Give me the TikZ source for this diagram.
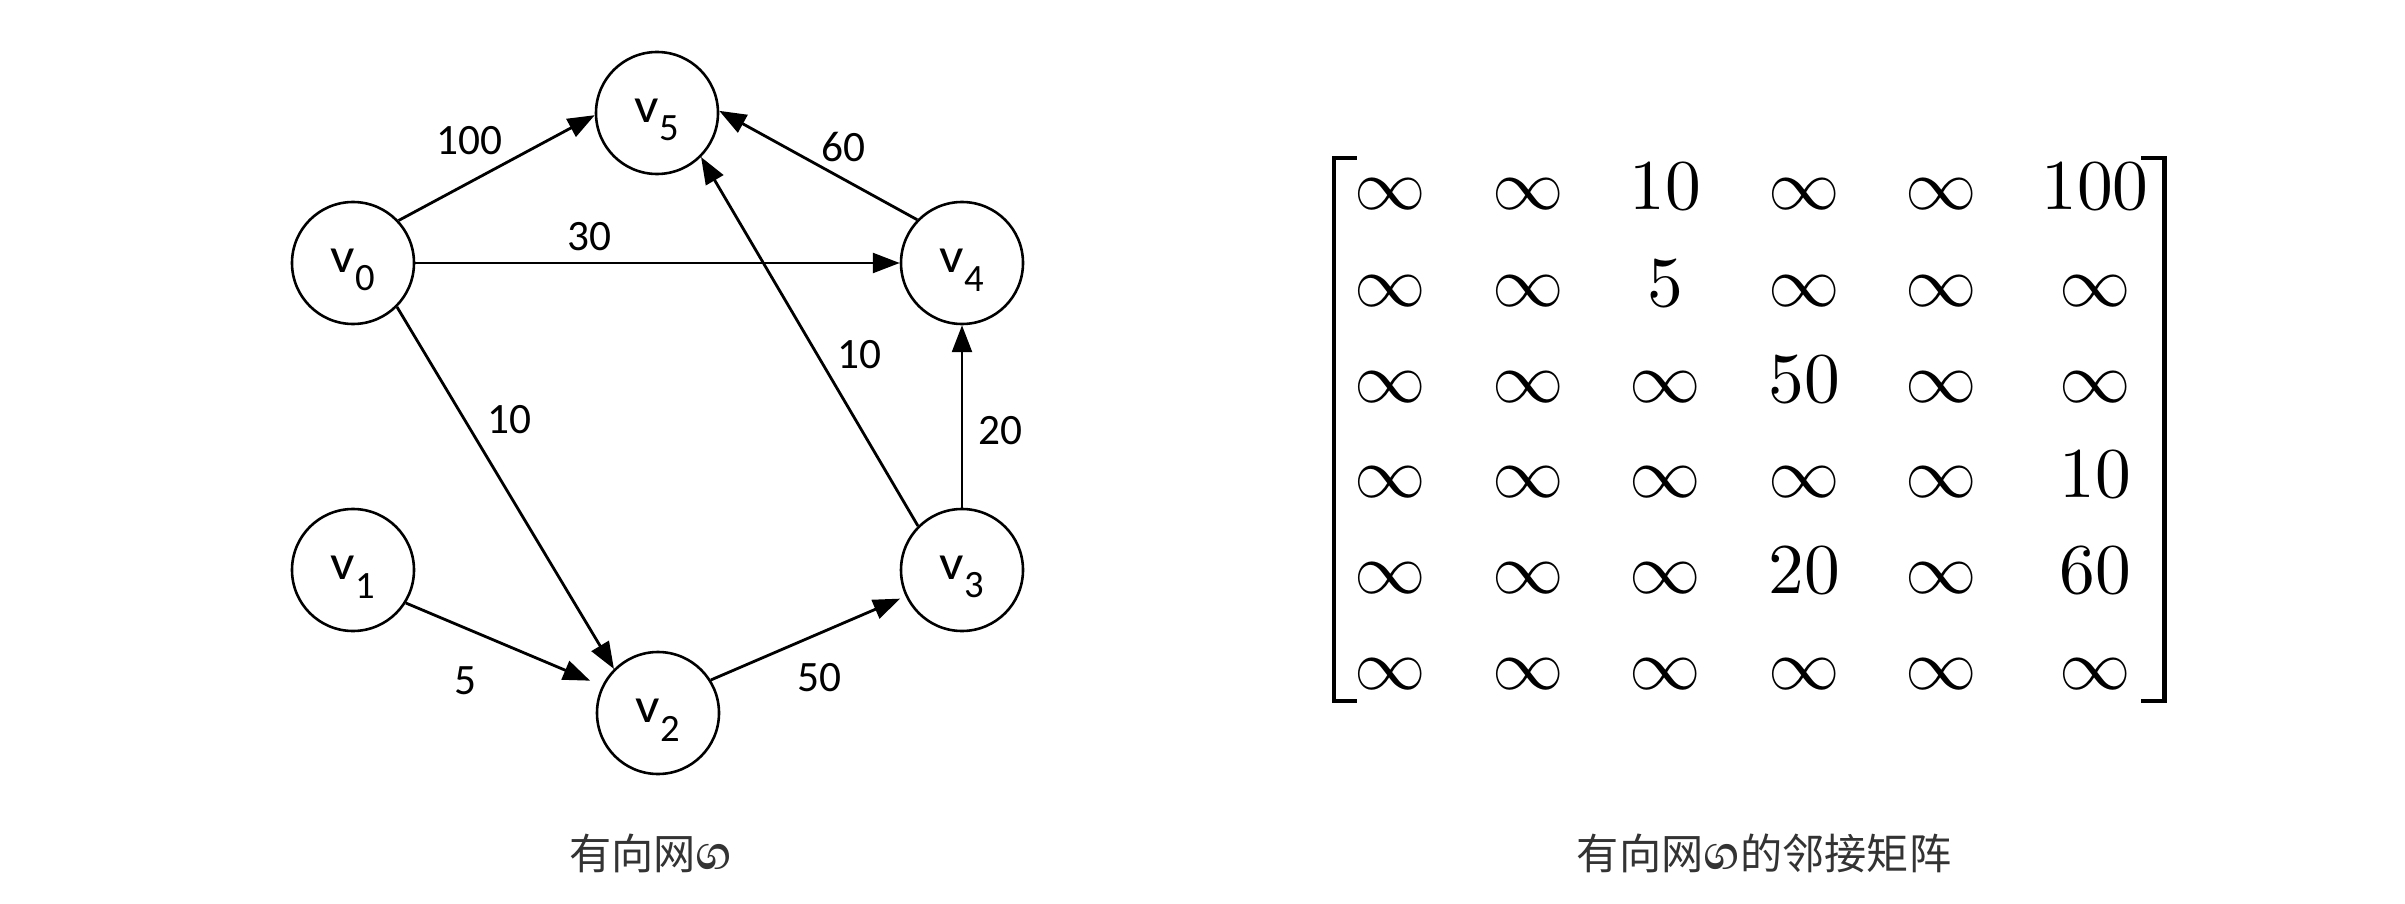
\documentclass[tikz,border=0pt]{standalone}
\usepackage{fontspec}
\usepackage{graphicx}
\usetikzlibrary{arrows.meta}
\newfontfamily\carl{Carlito}
\newfontfamily\cjk{Noto Sans CJK SC}
\newfontfamily\sinhalafont[Script=Sinhala]{Abhaya Libre}
\newcommand{\vv}[1]{\rule{0pt}{32pt}{\fontsize{42}{48}\selectfont\scalebox{1.1}[1]{v}}\raisebox{-16pt}{\fontsize{33}{38}\selectfont #1}}
\newcommand{\gglyph}{{\sinhalafont\bfseries\fontsize{52}{56}\selectfont ග}}
\newcommand{\minf}{\scalebox{6.1}{$\infty$}}
\newcommand{\mnum}[1]{\scalebox{6.1}{$#1$}}
\begin{document}
\begin{tikzpicture}[x=0.03cm,y=-0.03cm,
  vert/.style={circle,draw,line width=2.2pt,minimum size=3.66cm,inner sep=0pt,font=\carl},
  edge/.style={line width=2.4pt,-{Triangle[length=23pt,width=17pt]}},
  wt/.style={font=\carl\fontsize{37}{44}\selectfont,inner sep=0pt},
  captext/.style={font=\cjk\fontsize{36}{42}\selectfont,text=black!80,inner sep=0pt},
  ent/.style={anchor=base,inner sep=0pt},
  brk/.style={line width=3.7pt,line join=miter,line cap=rect}]
\useasboundingbox (0,0) rectangle (2405,904);
% vertices
\node[vert] (v5) at (657,113) {\vv{5}};
\node[vert] (v0) at (353,263) {\vv{0}};
\node[vert] (v4) at (962,263) {\vv{4}};
\node[vert] (v1) at (353,570) {\vv{1}};
\node[vert] (v3) at (962,570) {\vv{3}};
\node[vert] (v2) at (658,713) {\vv{2}};
% edges
\draw[edge] (v0.43) -- (v5.182);
\draw[edge] (v0.east) -- (v4.west);
\draw[edge] (v4.136) -- (v5.2);
\draw[edge] (v3.135) -- (v5.-45);
\draw[edge] (v3.north) -- (v4.south);
\draw[edge] (v0.-45) -- (v2.135);
\draw[edge,shorten >=11pt] (v1.-32) -- (v2.154);
\draw[edge,shorten >=5pt] (v2.32) -- (v3.205);
% weights
\node[wt] (w05) at (469,141) {100};
\node[wt] (w04) at (589,237) {30};
\node[wt] (w45) at (843,147) {60};
\node[wt] (w35) at (859,355) {10};
\node[wt] (w02) at (509,420) {10};
\node[wt] (w34) at (1000,431) {20};
\node[wt] (w12) at (465,681) {5};
\node[wt] (w23) at (819,678) {50};
% captions
\node[captext] (c1) at (651,853) {有向网\gglyph};
\node[captext] (c2) at (1764,853) {有向网\gglyph 的邻接矩阵};
% matrix brackets
\draw[brk] (1355,158) -- (1334,158) -- (1334,701) -- (1355,701);
\draw[brk] (2143,158) -- (2164.5,158) -- (2164.5,701) -- (2143,701);
% matrix entries
\foreach \r/\y in {1/210,2/306,3/402,4/497,5/593,6/689}{
  \foreach \c/\x in {1/1390,2/1528,3/1665,4/1804,5/1941,6/2095}{
    \coordinate (m\r\c) at (\x,\y);
  }
}
\node[ent] at (m11) {\minf}; \node[ent] at (m12) {\minf}; \node[ent] at (m13) {\mnum{10}};
\node[ent] at (m14) {\minf}; \node[ent] at (m15) {\minf}; \node[ent] at (m16) {\mnum{100}};
\node[ent] at (m21) {\minf}; \node[ent] at (m22) {\minf}; \node[ent] at (m23) {\mnum{5}};
\node[ent] at (m24) {\minf}; \node[ent] at (m25) {\minf}; \node[ent] at (m26) {\minf};
\node[ent] at (m31) {\minf}; \node[ent] at (m32) {\minf}; \node[ent] at (m33) {\minf};
\node[ent] at (m34) {\mnum{50}}; \node[ent] at (m35) {\minf}; \node[ent] at (m36) {\minf};
\node[ent] at (m41) {\minf}; \node[ent] at (m42) {\minf}; \node[ent] at (m43) {\minf};
\node[ent] at (m44) {\minf}; \node[ent] at (m45) {\minf}; \node[ent] at (m46) {\mnum{10}};
\node[ent] at (m51) {\minf}; \node[ent] at (m52) {\minf}; \node[ent] at (m53) {\minf};
\node[ent] at (m54) {\mnum{20}}; \node[ent] at (m55) {\minf}; \node[ent] at (m56) {\mnum{60}};
\node[ent] at (m61) {\minf}; \node[ent] at (m62) {\minf}; \node[ent] at (m63) {\minf};
\node[ent] at (m64) {\minf}; \node[ent] at (m65) {\minf}; \node[ent] at (m66) {\minf};
\end{tikzpicture}
\end{document}
